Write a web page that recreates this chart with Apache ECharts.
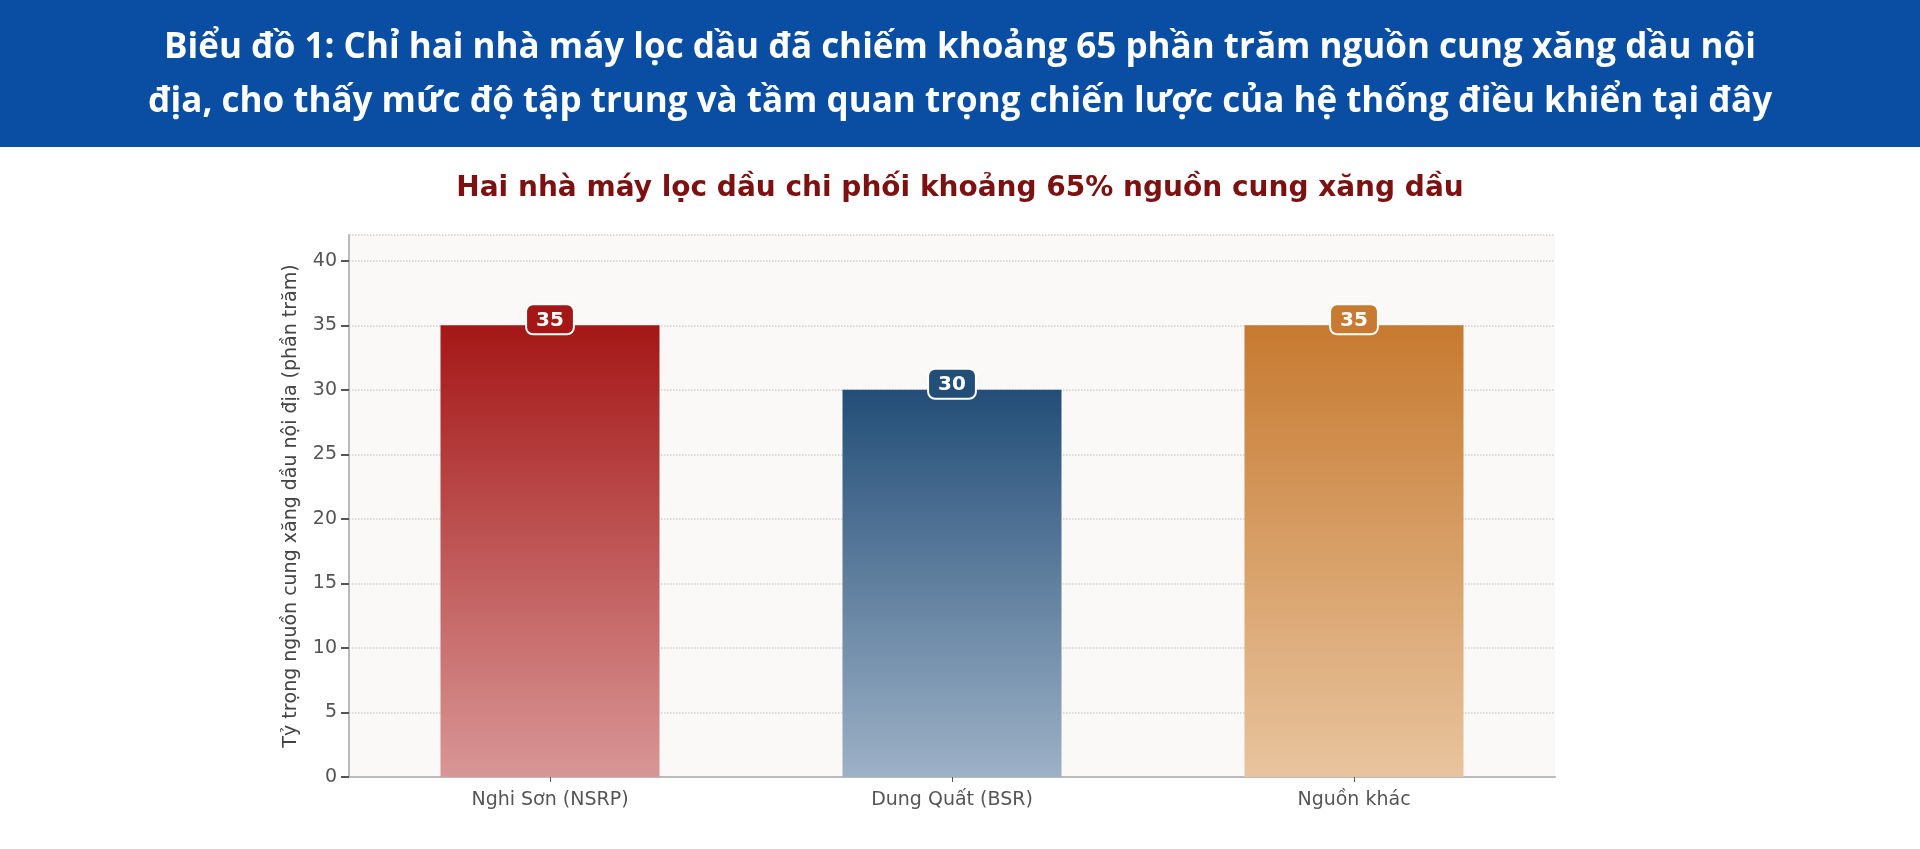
<!DOCTYPE html>
<html><head><meta charset="utf-8">
<script src="https://cdn.jsdelivr.net/npm/echarts@6/dist/echarts.min.js"></script>
<style>html,body{margin:0;padding:0;background:#fff;}#c{width:1920px;height:849px;}</style>
</head><body><div id="c"></div>
<script>
var categories = ['Nghi Sơn (NSRP)', 'Dung Quất (BSR)', 'Nguồn khác'];
var values = [35, 30, 35];
var topColors = ['#a51717', '#234e78', '#c77a30'];
var bottomColors = ['#d99696', '#9db1c6', '#e8c49e'];
var headerLines = 'Biểu đồ 1: Chỉ hai nhà máy lọc dầu đã chiếm khoảng 65 phần trăm nguồn cung xăng dầu nội\nđịa, cho thấy mức độ tập trung và tầm quan trọng chiến lược của hệ thống điều khiển tại đây';
var chart = echarts.init(document.getElementById('c'));
chart.setOption({
  backgroundColor: '#fff',
  graphic: [{type:'rect', left:0, top:0, shape:{width:1920, height:147}, style:{fill:'#0a4ea3'}, z:-1}],
  title: [
    {text: headerLines, left:'center', top:16, textStyle:{color:'#fff', fontFamily:'Open Sans', fontWeight:'bold', fontSize:35, lineHeight:54}},
    {text: 'Hai nhà máy lọc dầu chi phối khoảng 65% nguồn cung xăng dầu', left:'center', top:170, textStyle:{color:'#7d1111', fontFamily:'DejaVu Sans', fontWeight:'bold', fontSize:28}}
  ],
  grid: {left:349, right:365, top:235, bottom:72, show:true, backgroundColor:'#faf9f8', borderWidth:0},
  xAxis: {type:'category', data:categories,
    axisLine:{lineStyle:{color:'#bbbbbb', width:2}}, axisTick:{show:true, alignWithLabel:true, lineStyle:{color:'#555'}},
    axisLabel:{color:'#555', fontFamily:'DejaVu Sans', fontSize:19, margin:14}},
  yAxis: {type:'value', min:0, max:42, interval:5,
    name:'Tỷ trọng nguồn cung xăng dầu nội địa (phần trăm)', nameLocation:'middle', nameGap:48,
    nameTextStyle:{color:'#444', fontFamily:'DejaVu Sans', fontSize:19},
    axisLine:{show:true, lineStyle:{color:'#bbbbbb', width:2}}, axisTick:{show:true, length:8, lineStyle:{color:'#555', width:2}},
    axisLabel:{color:'#555', fontFamily:'DejaVu Sans', fontSize:19, margin:12, showMaxLabel:false},
    splitLine:{show:true, lineStyle:{color:'#cfcfcf', type:'dotted', width:1.5}}},
  series: [{type:'bar', barWidth:219,
    data: values.map(function(v,i){return {value:v,
      itemStyle:{color:new echarts.graphic.LinearGradient(0,0,0,1,[{offset:0,color:topColors[i]},{offset:1,color:bottomColors[i]}])},
      label:{backgroundColor:topColors[i]}};}),
    label:{show:true, position:'top', distance:-8, color:'#fff', fontFamily:'DejaVu Sans', fontWeight:'bold', fontSize:20,
      padding:[5,9,3,9], borderRadius:6, borderColor:'#fff', borderWidth:2}
  }]
});
</script></body></html>
